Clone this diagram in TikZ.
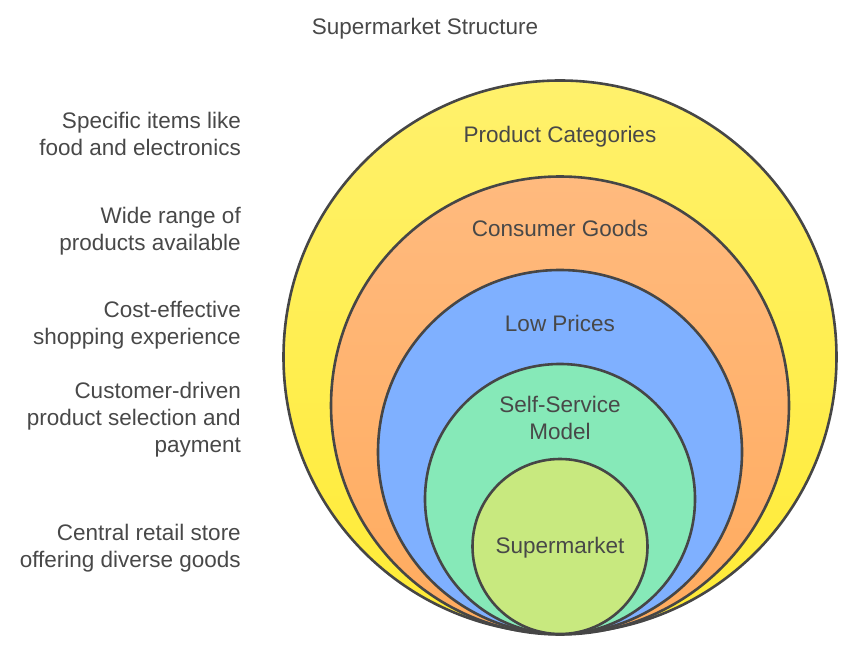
\documentclass[tikz,border=0pt]{standalone}
\usepackage{fontspec}
\setmainfont{Liberation Sans}
\definecolor{inkgray}{HTML}{484848}
\definecolor{edgegray}{HTML}{464646}
\definecolor{yellowtop}{HTML}{FFF16C}
\definecolor{yellowlow}{HTML}{FFEB35}
\definecolor{orangetop}{HTML}{FFBA7E}
\definecolor{orangelow}{HTML}{FFAB5E}
\usepackage{tikz}

\begin{document}
\begin{tikzpicture}[x=1pt, y=-1pt,
    ring/.style={circle, draw=edgegray, line width=2.6pt, minimum size=#1,
        inner sep=0pt, outer sep=0pt},
    ringtext/.style={text=inkgray, align=center, font=\fontsize{22.5}{27}\selectfont},
    sidetext/.style={text=inkgray, align=right, anchor=east, inner sep=0pt,
        font=\fontsize{22.5}{27}\selectfont}
]
    \useasboundingbox (0,0) rectangle (852,650);
    % nested rings
    \node[ring=553pt, top color=yellowtop, bottom color=yellowlow] (categories) at (560,357) {};
    \node[ring=458pt, top color=orangetop, bottom color=orangelow] (goods) at (560,405.5) {};
    \node[ring=364pt, fill={rgb,255:red,127;green,176;blue,255}] (prices) at (560,452) {};
    \node[ring=270pt, fill={rgb,255:red,134;green,233;blue,184}] (service) at (560,499) {};
    \node[ring=175pt, fill={rgb,255:red,200;green,233;blue,127}] (market) at (560,546.5) {};
    % ring labels
    \node[ringtext] (title) at (425,29) {Supermarket Structure};
    \node[ringtext] (categorieslabel) at (560,137) {Product Categories};
    \node[ringtext] (goodslabel) at (560,228.5) {Consumer Goods};
    \node[ringtext] (priceslabel) at (560,323.5) {Low Prices};
    \node[ringtext] (servicelabel) at (560,418) {Self-Service\\Model};
    \node[ringtext] (marketlabel) at (560,548) {Supermarket};
    % side notes
    \node[sidetext] (categoriesnote) at (241,134) {Specific items like\\food and electronics};
    \node[sidetext] (goodsnote) at (241,231) {Wide range of\\products available};
    \node[sidetext] (pricesnote) at (241,325) {Cost-effective\\shopping experience};
    \node[sidetext] (servicenote) at (241,420) {Customer-driven\\product selection and\\payment};
    \node[sidetext] (marketnote) at (241,548) {Central retail store\\offering diverse goods};
\end{tikzpicture}
\end{document}
